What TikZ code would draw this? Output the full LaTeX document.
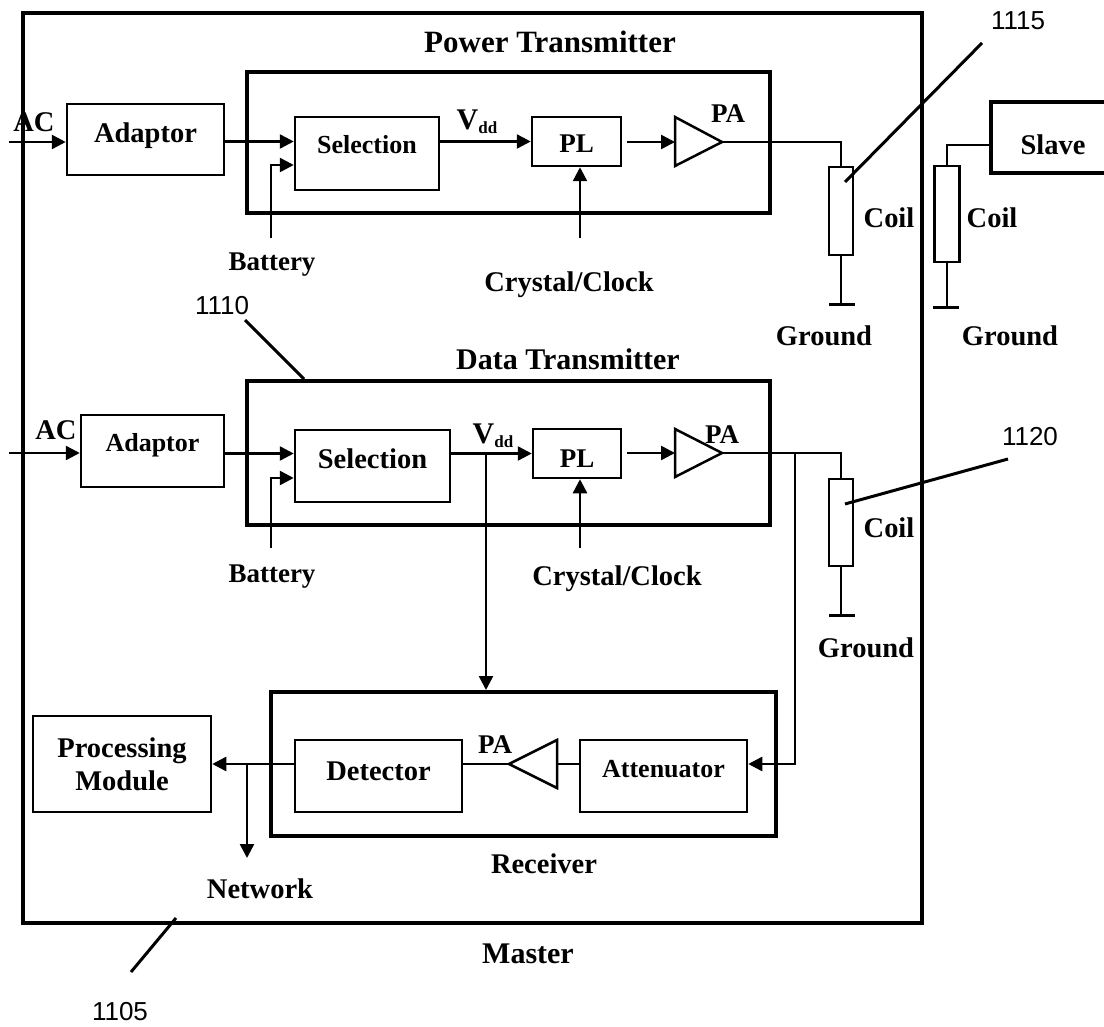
\documentclass[tikz,border=0pt]{standalone}
\usepackage{fontspec}
\setmainfont{Liberation Serif}
\newfontfamily\numfont{Liberation Sans}
\usetikzlibrary{arrows.meta}

\tikzset{
  blk/.style={draw, line width=2.5pt, inner sep=0pt},
  grp/.style={draw, line width=4pt, inner sep=0pt},
  coilbox/.style={draw, line width=2.5pt, inner sep=0pt},
  txt/.style={anchor=base, inner sep=0pt},
  num/.style={anchor=base, inner sep=0pt, font=\numfont\fontsize{26}{30}\selectfont},
  fsA/.style={font=\bfseries\fontsize{26}{30}\selectfont},
  fsB/.style={font=\bfseries\fontsize{27}{31}\selectfont},
  fsC/.style={font=\bfseries\fontsize{28.5}{33}\selectfont},
  fsD/.style={font=\bfseries\fontsize{30}{34}\selectfont},
  arr/.style={line width=2.5pt, -{Triangle[length=14pt,width=14pt]}},
  wire/.style={line width=2pt},
  amp/.style={line width=2.5pt, line join=miter},
  gnd/.style={line width=3pt},
  lead/.style={line width=3pt},
}
\newcommand{\vdd}{V\raisebox{-4pt}{\fontsize{17}{17}\selectfont dd}}

\begin{document}
\begin{tikzpicture}[x=1pt, y=-1pt]
        \useasboundingbox (0,0) rectangle (1104,1027);

        % frames
        \node[draw, line width=4.5pt, minimum width=899pt, minimum height=910pt] (master) at (472.5,468) {};
        \node[grp, minimum width=523pt, minimum height=141pt] (ptx) at (508.5,142.5) {};
        \node[grp, minimum width=523pt, minimum height=144pt] (dtx) at (508.5,453) {};
        \node[grp, minimum width=505pt, minimum height=144pt] (rcv) at (523.5,764) {};

        \node[txt, font=\bfseries\fontsize{31}{35}\selectfont] (ptxtitle) at (550,53) {Power Transmitter};
        \node[txt, fsD] (dtxtitle) at (568,369) {Data Transmitter};
        \node[txt, fsC] (rcvtitle) at (544,873) {Receiver};
        \node[txt, fsD] (mastertitle) at (528,963) {Master};

        % power transmitter
        \node[blk, fsC, minimum width=157pt, minimum height=71pt, text height=7pt, text depth=0pt] (adp1) at (145.5,139.5) {Adaptor};
        \node[blk, fsA, minimum width=144pt, minimum height=73pt, text height=1pt, text depth=0pt] (sel1) at (367,153.5) {Selection};
        \node[blk, fsB, minimum width=89pt, minimum height=49pt, text height=23pt, text depth=0pt] (pl1) at (576.5,141.5) {PL};
        \coordinate (pa1in) at (675,142);
        \coordinate (pa1out) at (722,142);
        \draw[amp] (675,117) -- (pa1out) -- (675,166) -- cycle;
        \node[coilbox, minimum width=24pt, minimum height=88pt] (coil1) at (841,211) {};
        \coordinate (g1) at (841,305);

        \coordinate (ac1) at (9,142);
        \coordinate (bat1) at (271,238);
        \coordinate (xt1) at (580,238);
        \node[txt, fsC] (aclbl1) at (34,132) {AC};
        \node[txt, fsB] (batlbl1) at (272,271) {Battery};
        \node[txt, fsD] (vddlbl1) at (477,130) {\vdd};
        \node[txt, fsB] (palbl1) at (728,123) {PA};
        \node[txt, fsC] (xtlbl1) at (569,292) {Crystal/Clock};
        \node[txt, fsC] (coillbl1) at (889,228) {Coil};
        \node[txt, fsC] (gndlbl1) at (824,345) {Ground};

        \draw[arr] (ac1) -- (ac1 -| adp1.west);
        \draw[arr] (adp1.east |- pl1.west) -- (sel1.west |- pl1.west);
        \draw[arr] (bat1) |- ([yshift=-11.5pt]sel1.west);
        \draw[arr] (sel1.east |- pl1.west) -- (pl1.west);
        \draw[arr] (xt1) -- (xt1 |- pl1.south);
        \draw[arr, shorten <=5pt] (pl1.east |- pa1in) -- (pa1in);
        \draw[wire] (pa1out) -| (coil1.north);
        \draw[wire] (coil1.south) -- (g1);
        \draw[gnd] ([xshift=-12pt]g1) -- ([xshift=14pt]g1);

        % slave side
        \node[blk, line width=4pt, fsC, minimum width=124pt, minimum height=71pt, text height=35pt, text depth=0pt] (slave) at (1053,137.5) {Slave};
        \node[coilbox, minimum width=25pt, minimum height=96pt] (scoil) at (947,214) {};
        \coordinate (gs) at (947,308);
        \node[txt, fsC] (coillbls) at (992,228) {Coil};
        \node[txt, fsC] (gndlbls) at (1010,345) {Ground};
        \draw[wire] ([yshift=-7.5pt]slave.west) -| (scoil.north);
        \draw[wire] (scoil.south) -- (gs);
        \draw[gnd] ([xshift=-14pt]gs) -- ([xshift=12pt]gs);

        % data transmitter
        \node[blk, fsA, minimum width=143pt, minimum height=72pt, text height=0pt, text depth=0pt] (adp2) at (152.5,451) {Adaptor};
        \node[blk, fsC, minimum width=155pt, minimum height=72pt, text height=4pt, text depth=0pt] (sel2) at (372.5,466) {Selection};
        \node[blk, fsB, minimum width=88pt, minimum height=49pt, text height=27pt, text depth=0pt] (pl2) at (577,453.5) {PL};
        \coordinate (pa2in) at (675,453);
        \coordinate (pa2out) at (722,453);
        \draw[amp] (675,429) -- (pa2out) -- (675,477) -- cycle;
        \node[coilbox, minimum width=24pt, minimum height=87pt] (coil2) at (841,522.5) {};
        \coordinate (g2) at (841,615);

        \coordinate (ac2) at (9,453);
        \coordinate (bat2) at (271,548);
        \coordinate (xt2) at (580,548);
        \coordinate (vb) at (486,453);
        \coordinate (br) at (795,453);
        \node[txt, fsC] (aclbl2) at (56,439) {AC};
        \node[txt, fsB] (batlbl2) at (272,582) {Battery};
        \node[txt, fsD] (vddlbl2) at (493,443) {\vdd};
        \node[txt, fsB] (palbl2) at (722,443) {PA};
        \node[txt, fsC] (xtlbl2) at (617,585) {Crystal/Clock};
        \node[txt, fsC] (coillbl2) at (889,537) {Coil};
        \node[txt, fsC] (gndlbl2) at (866,657) {Ground};

        \draw[arr] (ac2) -- (ac2 -| adp2.west);
        \draw[arr] (adp2.east |- pl2.west) -- (sel2.west |- pl2.west);
        \draw[arr] (bat2) |- ([yshift=-12pt]sel2.west);
        \draw[arr] (sel2.east |- pl2.west) -- (pl2.west);
        \draw[arr] (xt2) -- (xt2 |- pl2.south);
        \draw[arr, shorten <=5pt] (pl2.east |- pa2in) -- (pa2in);
        \draw[wire] (pa2out) -| (coil2.north);
        \draw[wire] (coil2.south) -- (g2);
        \draw[gnd] ([xshift=-12pt]g2) -- ([xshift=14pt]g2);

        % receiver
        \node[blk, fsC, minimum width=167pt, minimum height=72pt, text height=8pt, text depth=0pt] (det) at (378.5,776) {Detector};
        \node[blk, fsA, minimum width=167pt, minimum height=72pt, text height=2pt, text depth=0pt] (att) at (663.5,776) {Attenuator};
        \coordinate (pa3tip) at (509,764);
        \coordinate (pa3base) at (557,764);
        \draw[amp] (557,740) -- (pa3tip) -- (557,788) -- cycle;
        \node[blk, fsC, align=center, minimum width=178pt, minimum height=96pt, font=\bfseries\fontsize{28.5}{33}\selectfont] (pm) at (122,764) {Processing\\Module};
        \coordinate (nj) at (247,764);
        \coordinate (nt) at (247,858);
        \node[txt, fsB] (palbl3) at (495,753) {PA};
        \node[txt, fsC] (netlbl) at (260,898) {Network};

        \draw[arr] (vb) -- (vb |- rcv.north);
        \draw[arr] (br) |- (att.east |- pa3tip);
        \draw[wire] (pa3base) -- (att.west |- pa3base);
        \draw[wire] (det.east |- pa3tip) -- (pa3tip);
        \draw[arr] (det.west |- pa3tip) -- (pm.east |- pa3tip);
        \draw[arr] (nj) -- (nt);

        % reference numerals
        \node[num] (n1115) at (1018,30) {1115};
        \node[num] (n1110) at (222,315) {1110};
        \node[num] (n1120) at (1030,445) {1120};
        \node[num] (n1105) at (120,1020) {1105};
        \coordinate (l1115a) at (845,182);
        \coordinate (l1115b) at (982,43);
        \coordinate (l1110a) at (245,320);
        \coordinate (l1110b) at (304,379);
        \coordinate (l1120a) at (845,504);
        \coordinate (l1120b) at (1008,459);
        \coordinate (l1105a) at (176,918);
        \coordinate (l1105b) at (131,972);
        \draw[lead] (l1115a) -- (l1115b);
        \draw[lead] (l1110a) -- (l1110b);
        \draw[lead] (l1120a) -- (l1120b);
        \draw[lead] (l1105a) -- (l1105b);
    \end{tikzpicture}
\end{document}
